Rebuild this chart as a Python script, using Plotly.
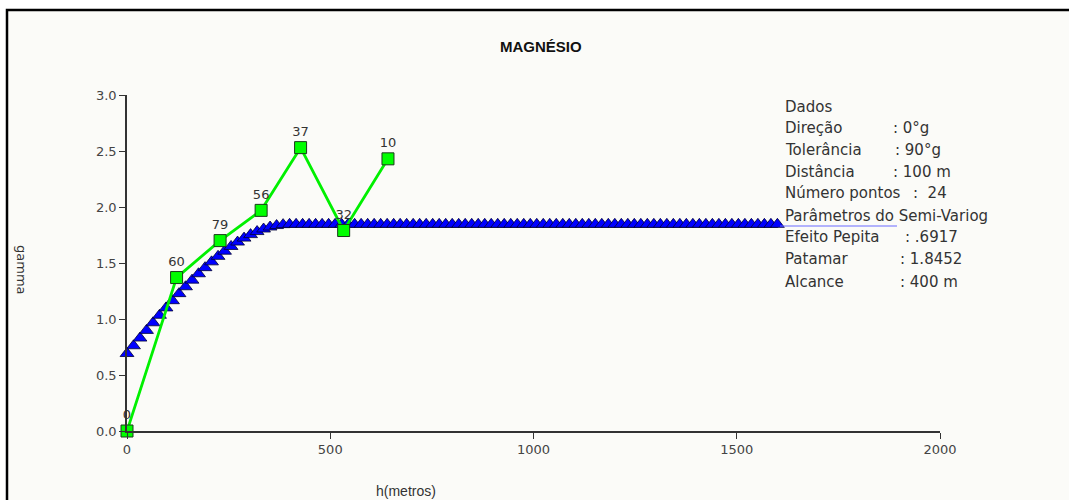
import plotly.graph_objects as go

# Experimental semivariogram (lag distance, gamma, number of pairs)
lag_h = [0, 122, 229, 330, 427, 533, 642]
lag_gamma = [0.0, 1.37, 1.70, 1.97, 2.53, 1.79, 2.43]
lag_pairs = ["0", "60", "79", "56", "37", "32", "10"]

# Fitted spherical model, sampled every 16 m
model_h = list(range(0, 1616, 16))
model_gamma = [
    0.6917, 0.7609, 0.8298, 0.8983, 0.9662, 1.0331, 1.0990, 1.1635, 1.2265, 1.2877,
    1.3469, 1.4039, 1.4584, 1.5103, 1.5594, 1.6053, 1.6479, 1.6869, 1.7222, 1.7535,
    1.7806, 1.8033, 1.8213, 1.8344, 1.8425, 1.8452, 1.8452, 1.8452, 1.8452, 1.8452,
    1.8452, 1.8452, 1.8452, 1.8452, 1.8452, 1.8452, 1.8452, 1.8452, 1.8452, 1.8452,
    1.8452, 1.8452, 1.8452, 1.8452, 1.8452, 1.8452, 1.8452, 1.8452, 1.8452, 1.8452,
    1.8452, 1.8452, 1.8452, 1.8452, 1.8452, 1.8452, 1.8452, 1.8452, 1.8452, 1.8452,
    1.8452, 1.8452, 1.8452, 1.8452, 1.8452, 1.8452, 1.8452, 1.8452, 1.8452, 1.8452,
    1.8452, 1.8452, 1.8452, 1.8452, 1.8452, 1.8452, 1.8452, 1.8452, 1.8452, 1.8452,
    1.8452, 1.8452, 1.8452, 1.8452, 1.8452, 1.8452, 1.8452, 1.8452, 1.8452, 1.8452,
    1.8452, 1.8452, 1.8452, 1.8452, 1.8452, 1.8452, 1.8452, 1.8452, 1.8452, 1.8452,
    1.8452,
]

# Info panel: (label, value)
info_title = "Dados"
info_rows = [
    ("Direção", ": 0°g"),
    ("Tolerância", ": 90°g"),
    ("Distância", ": 100 m"),
    ("Número pontos", ":  24"),
]
param_title = "Parâmetros do Semi-Variog"
param_rows = [
    ("Efeito Pepita", ": .6917"),
    ("Patamar", ": 1.8452"),
    ("Alcance", ": 400 m"),
]

W, H = 1069, 500
ML, MR, MT, MB = 127, 129, 95, 69
PW, PH = W - ML - MR, H - MT - MB


def px(x):
    return (x - ML) / PW


def py(y):
    return (H - MB - y) / PH


FONT = "Liberation Sans, Arial, sans-serif"
WIDE = "DejaVu Sans, Verdana, sans-serif"
TXT = "#333333"

fig = go.Figure()

fig.add_trace(go.Scatter(
    x=model_h, y=model_gamma, mode="markers",
    marker=dict(symbol="triangle-up", size=12, color="#0000ff",
                line=dict(color="#000033", width=0.8)),
    cliponaxis=False, hoverinfo="x+y",
))

fig.add_trace(go.Scatter(
    x=lag_h, y=lag_gamma, mode="lines+markers+text",
    text=lag_pairs, textposition="top center",
    textfont=dict(family=WIDE, size=13, color=TXT),
    line=dict(color="#00f000", width=2.8),
    marker=dict(symbol="square", size=12, color="#00ff00",
                line=dict(color="#1a3a1a", width=1)),
    cliponaxis=False, hoverinfo="x+y",
))

shapes = [
    # outer frame (only top and left edges fall inside the page)
    dict(type="rect", xref="paper", yref="paper",
         x0=px(7), x1=px(1075), y0=py(10), y1=py(506),
         line=dict(color="black", width=2.5), fillcolor="#fbfbf8", layer="below"),
    # underline below the parameters heading
    dict(type="line", xref="paper", yref="paper",
         x0=px(780), x1=px(897), y0=py(226), y1=py(226),
         line=dict(color="#6b6bff", width=1.2)),
]

annotations = [
    dict(text="<b>MAGNÉSIO</b>", x=px(541), y=py(46), xref="paper", yref="paper",
         xanchor="center", yanchor="middle", showarrow=False,
         font=dict(family="Liberation Sans Narrow, " + FONT, size=15, color="#111")),
    dict(text="gamma", x=px(22), y=py(270), xref="paper", yref="paper",
         xanchor="center", yanchor="middle", showarrow=False, textangle=90,
         font=dict(family=WIDE, size=13, color=TXT)),
    dict(text="h(metros)", x=px(406), y=py(491), xref="paper", yref="paper",
         xanchor="center", yanchor="middle", showarrow=False,
         font=dict(family=FONT, size=14, color=TXT)),
]

line_y = [107, 128, 150, 172, 193, 216, 237, 259, 282]
colon_x = [891, 893, 891, 911, 903, 898, 898]
INFO_FONT = dict(family=WIDE, size=15, color=TXT)

labels = [info_title] + [r[0] for r in info_rows] + [param_title] + [r[0] for r in param_rows]
for lbl, yy in zip(labels, line_y):
    annotations.append(dict(text=lbl, x=px(783), y=py(yy), xref="paper", yref="paper",
                            xanchor="left", yanchor="middle", showarrow=False, font=INFO_FONT))

vals = [r[1] for r in info_rows] + [r[1] for r in param_rows]
val_y = line_y[1:5] + line_y[6:]
for v, yy, cx in zip(vals, val_y, colon_x):
    annotations.append(dict(text=v, x=px(cx), y=py(yy), xref="paper", yref="paper",
                            xanchor="left", yanchor="middle", showarrow=False, font=INFO_FONT))

axis_common = dict(
    showline=True, linecolor="#333333", linewidth=1.5, showgrid=False, zeroline=False,
    ticks="outside", ticklen=6, tickcolor="#333333",
    tickfont=dict(family=WIDE, size=13, color="#444444"),
)

fig.update_layout(
    width=W, height=H, autosize=False,
    margin=dict(l=ML, r=MR, t=MT, b=MB, pad=0),
    paper_bgcolor="white", plot_bgcolor="rgba(0,0,0,0)",
    showlegend=False,
    xaxis=dict(range=[0, 2000], tickvals=[0, 500, 1000, 1500, 2000], **axis_common),
    yaxis=dict(range=[0, 3], tickvals=[0, 0.5, 1, 1.5, 2, 2.5, 3], tickformat=".1f", **axis_common),
    shapes=shapes, annotations=annotations,
)

fig.write_html("out.html")
